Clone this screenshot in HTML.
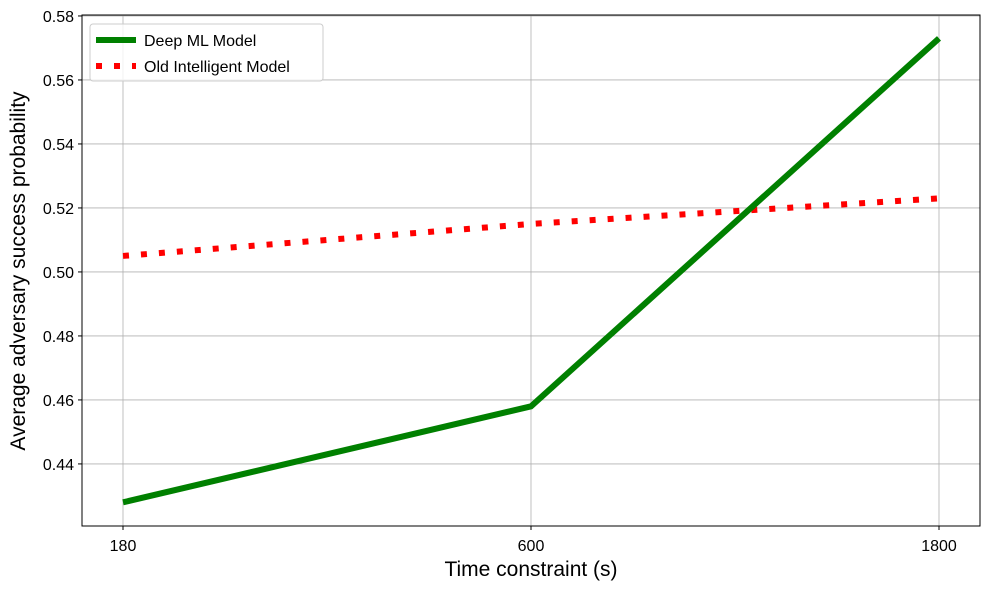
<!DOCTYPE html>
<html><head><meta charset="utf-8"><style>
body{margin:0;background:#fff;}
svg{display:block;font-family:"Liberation Sans","DejaVu Sans",sans-serif;}
</style></head><body>
<svg id="chart" width="990" height="589" xmlns="http://www.w3.org/2000/svg">
<g id="grid"></g>
<g id="series"></g>
<rect x="82" y="15" width="898" height="511" fill="none" stroke="#000" stroke-width="1"/>
<g id="ticks"></g>
<text x="531" y="576" font-size="21" text-anchor="middle">Time constraint (s)</text>
<text transform="translate(25,271) rotate(-90)" font-size="21" text-anchor="middle">Average adversary success probability</text>
<g>
<rect x="90" y="24" width="233" height="57" rx="3" fill="#fff" fill-opacity="0.8" stroke="#ccc"/>
<line x1="96" y1="40" x2="136" y2="40" stroke="#008000" stroke-width="6"/>
<text x="144" y="46" font-size="16">Deep ML Model</text>
<line x1="96" y1="66" x2="136" y2="66" stroke="#ff0000" stroke-width="6" stroke-dasharray="6,12"/>
<text x="144" y="72" font-size="16">Old Intelligent Model</text>
</g>
</svg>
<script>
const categories=["180","600","1800"];
const deepML=[0.428,0.458,0.573];
const oldModel=[0.505,0.515,0.523];
const yTicks=[0.44,0.46,0.48,0.50,0.52,0.54,0.56,0.58];
{
const NS="http://www.w3.org/2000/svg";
const x0=123,x1=939,yMin=0.4206,yMax=0.5803,yTop=15,yBot=526;
function xs(i){return x0+(x1-x0)*i/(categories.length-1);}
function ys(v){return yBot-(v-yMin)/(yMax-yMin)*(yBot-yTop);}
function mk(tag,attrs,parent){const e=document.createElementNS(NS,tag);for(const k in attrs)e.setAttribute(k,attrs[k]);parent.appendChild(e);return e;}
const grid=document.getElementById('grid'),ticks=document.getElementById('ticks'),ser=document.getElementById('series');
yTicks.forEach(t=>{const y=ys(t);
 const g=mk('line',{x1:82,x2:980,y1:y,y2:y,stroke:'#b0b0b0','stroke-width':0.8},grid);
 
 
 const tk=mk('line',{x1:78,x2:82,y1:y,y2:y,stroke:'#000'},ticks);
 
 
 const tx=mk('text',{x:74,y:y+6,'font-size':16,'text-anchor':'end'},ticks);tx.textContent=t.toFixed(2);
 
 
});
categories.forEach((c,i)=>{const x=xs(i);
 const g=mk('line',{x1:x,x2:x,y1:15,y2:526,stroke:'#b0b0b0','stroke-width':0.8},grid);
 
 
 const tk=mk('line',{x1:x,x2:x,y1:526,y2:530,stroke:'#000'},ticks);
 
 
 const tx=mk('text',{x:x,y:551,'font-size':16,'text-anchor':'middle'},ticks);tx.textContent=c;
 
 
});
const p2=mk('polyline',{points:oldModel.map((v,i)=>xs(i)+','+ys(v)).join(' '),fill:'none',stroke:'#ff0000','stroke-width':6,'stroke-dasharray':'6,12'},ser);


const p1=mk('polyline',{points:deepML.map((v,i)=>xs(i)+','+ys(v)).join(' '),fill:'none',stroke:'#008000','stroke-width':6},ser);


}
</script>
</body></html>
